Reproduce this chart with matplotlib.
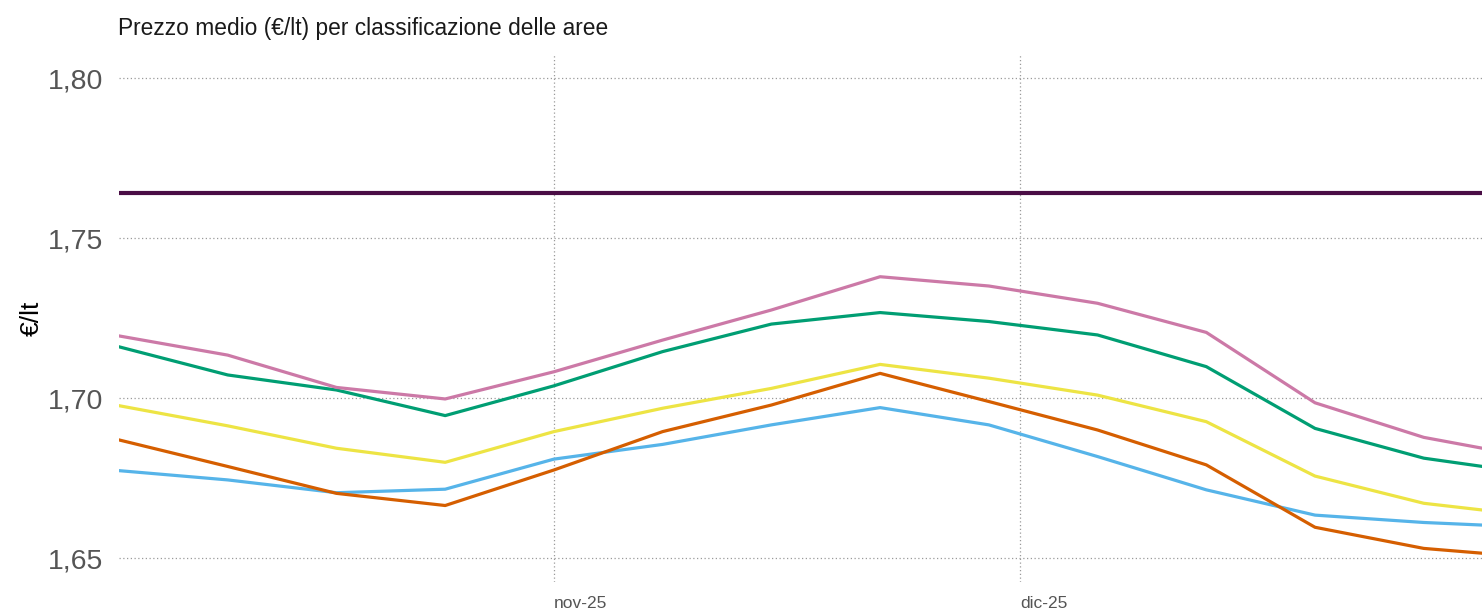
import datetime as dt

import matplotlib

matplotlib.use("Agg")
import matplotlib.pyplot as plt
from matplotlib.ticker import FuncFormatter

plt.rcParams["font.family"] = ["Liberation Sans", "DejaVu Sans"]

# weekly observations (saturdays)
dates = [dt.datetime(2025, 10, 4) + dt.timedelta(days=7 * i) for i in range(14)]

riferimento = [1.764] * 14
serie_rosa = [1.7194, 1.7134, 1.7033, 1.6997, 1.7082, 1.7181, 1.7275,
              1.7379, 1.7350, 1.7296, 1.7205, 1.6985, 1.6877, 1.6814]
serie_verde = [1.7160, 1.7072, 1.7025, 1.6945, 1.7038, 1.7145, 1.7231,
               1.7267, 1.7239, 1.7197, 1.7098, 1.6905, 1.6812, 1.6764]
serie_gialla = [1.6976, 1.6913, 1.6843, 1.6799, 1.6895, 1.6968, 1.7030,
                1.7105, 1.7062, 1.7009, 1.6926, 1.6756, 1.6671, 1.6632]
serie_arancio = [1.6869, 1.6786, 1.6702, 1.6664, 1.6775, 1.6895, 1.6978,
                 1.7077, 1.6989, 1.6900, 1.6791, 1.6596, 1.6530, 1.6502]
serie_blu = [1.6773, 1.6744, 1.6704, 1.6715, 1.6809, 1.6855, 1.6916,
             1.6970, 1.6916, 1.6817, 1.6713, 1.6634, 1.6611, 1.6596]

y_ticks = [1.65, 1.70, 1.75, 1.80]
month_ticks = [dt.datetime(2025, 11, 1), dt.datetime(2025, 12, 1)]
month_labels = ["nov-25", "dic-25"]

SERIES = [
    (serie_blu, "#56B4E9"),
    (serie_arancio, "#D55E00"),
    (serie_gialla, "#EDE444"),
    (serie_verde, "#009E73"),
    (serie_rosa, "#CC79A7"),
]

fig = plt.figure(figsize=(14.82, 6.12), dpi=100)
ax = fig.add_axes([119 / 1482, 1 - 582 / 612, 1 - 119 / 1482, (582 - 54) / 612])

for vals, color in SERIES:
    ax.plot(dates, vals, color=color, lw=2.3, solid_joinstyle="round", zorder=3)
ax.plot(dates, riferimento, color="#4a0d45", lw=3.0, zorder=4)

# panel is cut at the right edge, a bit before the last week
ax.set_xlim(dt.datetime(2025, 10, 4), dt.datetime(2025, 10, 4) + dt.timedelta(days=87.75))
ax.set_ylim(1.6425, 1.8075)

ax.set_yticks(y_ticks)
ax.yaxis.set_major_formatter(FuncFormatter(lambda v, p: f"{v:.2f}".replace(".", ",")))
ax.set_xticks(month_ticks)
ax.set_xticklabels(month_labels)
for lab in ax.get_xticklabels():
    lab.set_horizontalalignment("left")

ax.tick_params(axis="y", length=0, labelsize=20.5, labelcolor="#555555", pad=11)
ax.tick_params(axis="x", length=0, labelsize=12.5, labelcolor="#555555", pad=10)

ax.grid(True, color="#9a9a9a", lw=0.9, linestyle=(0, (1, 2)), zorder=0)
for s in ax.spines.values():
    s.set_visible(False)

ax.set_ylabel("€/lt", fontsize=19, color="black", labelpad=3)
fig.text(118 / 1482, 1 - 28 / 612, "Prezzo medio (€/lt) per classificazione delle aree",
         fontsize=16.4, color="#1a1a1a", ha="left", va="center")

fig.savefig("out.png", dpi=100)
